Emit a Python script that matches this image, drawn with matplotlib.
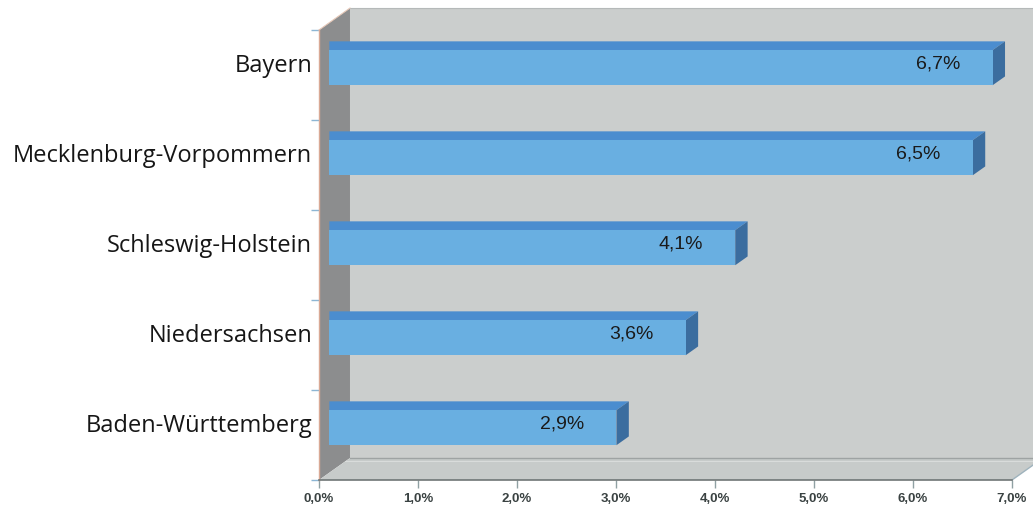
import matplotlib
matplotlib.use("Agg")
import matplotlib.pyplot as plt
from matplotlib.patches import Polygon, Rectangle

# data (top to bottom in the chart)
states = ["Bayern", "Mecklenburg-Vorpommern", "Schleswig-Holstein",
          "Niedersachsen", "Baden-Württemberg"]
values = [6.7, 6.5, 4.1, 3.6, 2.9]
value_labels = ["6,7%", "6,5%", "4,1%", "3,6%", "2,9%"]
xticks = [0, 1, 2, 3, 4, 5, 6, 7]
xtick_labels = ["0,0%", "1,0%", "2,0%", "3,0%", "4,0%", "5,0%", "6,0%", "7,0%"]

# 3d look: depth of the box and of the bars, in data units
DX, DY = 0.313, 0.244
BAR_POS = 1 / 3      # bars sit a third of the way into the box
BAR_DEPTH = 0.4
BAR_H = 0.39

WALL = "#cbcecd"
SIDE_WALL = "#8c8d8e"
FLOOR = "#c7cbca"
BAR_FRONT = "#69afe1"
BAR_TOP = "#4b8dcf"
BAR_SIDE = "#3b6d9f"


def main():
    fig = plt.figure(figsize=(10.33, 5.08), dpi=100)
    ax = fig.add_axes([319 / 1033, 28 / 508, 693 / 1033, 450 / 508])
    ax.set_xlim(0, 7)
    ax.set_ylim(-0.5, 4.5)
    ax.patch.set_visible(False)
    for s in ax.spines.values():
        s.set_visible(False)

    y0, y1 = -0.5, 4.5
    xmax = xticks[-1]

    # back wall
    ax.add_patch(Rectangle((DX, y0 + DY), xmax + 1, y1 - y0, facecolor=WALL,
                           edgecolor="none", clip_on=False, zorder=1))
    ax.plot([DX, xmax + 1], [y1 + DY, y1 + DY], color="#b5b9b9", lw=0.8,
            clip_on=False, zorder=1.5)
    # left wall
    ax.add_patch(Polygon([(0, y0), (DX, y0 + DY), (DX, y1 + DY), (0, y1)],
                         facecolor=SIDE_WALL, edgecolor="none", clip_on=False, zorder=2))
    # floor
    ax.add_patch(Polygon([(0, y0), (xmax, y0), (xmax + DX, y0 + DY), (DX, y0 + DY)],
                         facecolor=FLOOR, edgecolor="none", clip_on=False, zorder=2))
    ax.plot([DX, xmax + DX], [y0 + DY, y0 + DY], color="#9ea3a3", lw=1.0,
            clip_on=False, zorder=2.5)
    ax.plot([DX * 0.85, xmax + DX * 0.85], [y0 + DY * 0.85, y0 + DY * 0.85],
            color="#d9dcdb", lw=0.8, clip_on=False, zorder=2.5)
    ax.plot([xmax, xmax + DX * 1.2], [y0, y0 + DY * 1.2], color="#9fb3bd", lw=1.0,
            clip_on=False, zorder=2.5)
    ax.plot([0, DX], [y1, y1 + DY], color="#e6c8b8", lw=0.8, clip_on=False, zorder=2.5)

    # bars
    bx, by = DX * BAR_POS, DY * BAR_POS
    dx, dy = DX * BAR_DEPTH, DY * BAR_DEPTH
    ypos = list(range(len(states)))[::-1]
    for y, v, lab in zip(ypos, values, value_labels):
        bot = y - BAR_H / 2 + by
        top = y + BAR_H / 2 + by
        ax.add_patch(Polygon([(bx, top), (bx + v, top), (bx + v + dx, top + dy),
                              (bx, top + dy)], facecolor=BAR_TOP, edgecolor="none",
                             clip_on=False, zorder=3))
        ax.add_patch(Polygon([(bx + v, bot), (bx + v + dx, bot + dy),
                              (bx + v + dx, top + dy), (bx + v, top)],
                             facecolor=BAR_SIDE, edgecolor="none", clip_on=False, zorder=3))
        ax.add_patch(Rectangle((bx, bot), v, BAR_H, facecolor=BAR_FRONT,
                               edgecolor="none", clip_on=False, zorder=4))
        ax.text(bx + v - 0.55, y + by + 0.04, lab, ha="center", va="center",
                fontsize=14, family="Liberation Sans", color="#1a1a1a", zorder=5)

    # front axis lines
    ax.plot([0, 0], [y0, y1], color="#d9a995", lw=1.0, clip_on=False, zorder=5)
    ax.plot([0, xmax], [y0, y0], color="#6f7676", lw=1.2, clip_on=False, zorder=5)

    # x axis
    ax.set_xticks(xticks)
    ax.set_xticklabels(xtick_labels, fontsize=9.5, fontweight="bold",
                       family="Liberation Sans", color="#3a4242")
    ax.tick_params(axis="x", direction="out", length=6, width=1, color="#8fa0a3", pad=3)

    # y axis: labels on the categories, small marks between them
    ax.set_yticks([y + 0.13 for y in ypos])
    ax.set_yticklabels(states, fontsize=17, family="Open Sans", color="#161616")
    ax.tick_params(axis="y", which="major", length=0, pad=5)
    ax.set_yticks([y0 + i for i in range(len(states) + 1)], minor=True)
    ax.tick_params(axis="y", which="minor", length=6, width=1, color="#8db6d4")

    fig.savefig("out.png", dpi=100)
    plt.close(fig)


if __name__ == "__main__":
    main()
